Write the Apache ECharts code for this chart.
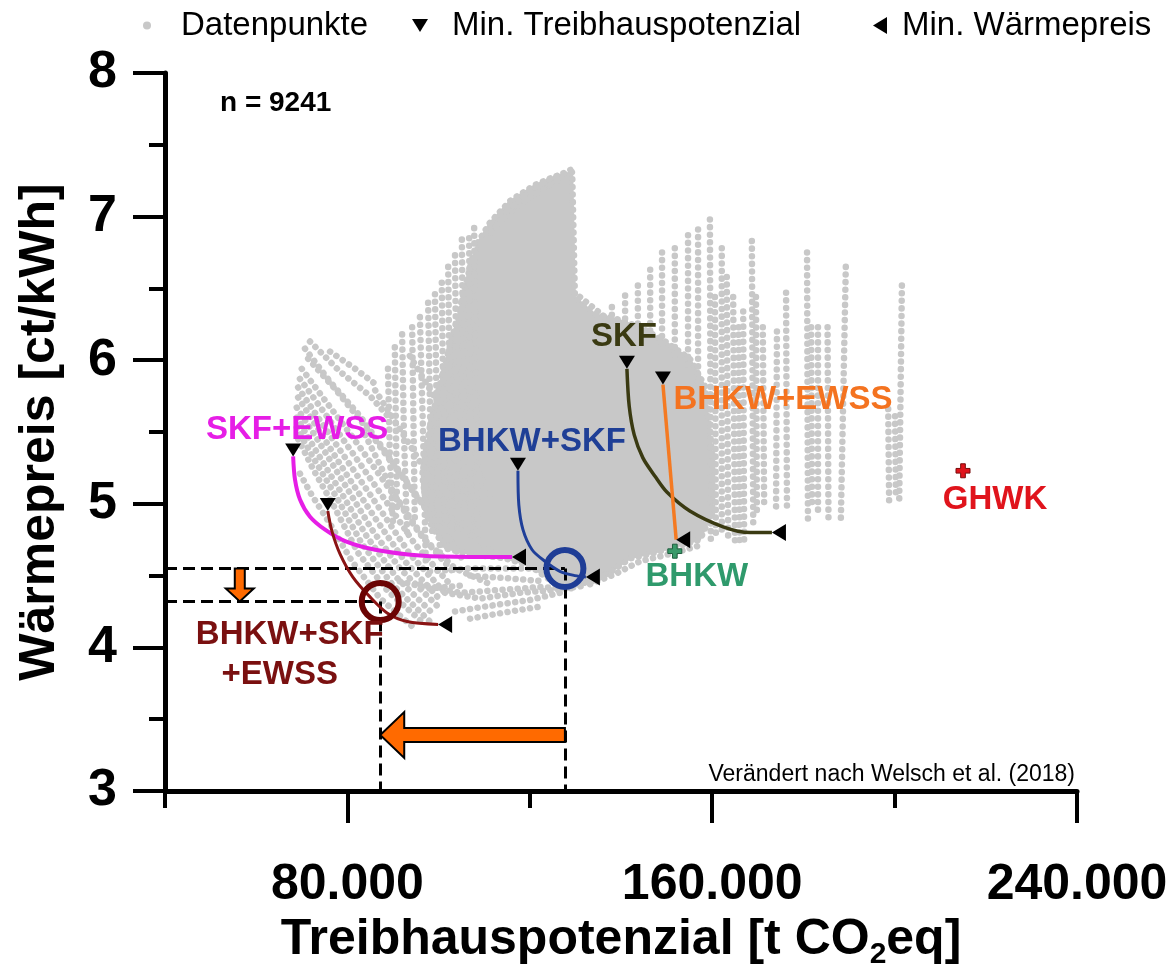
<!DOCTYPE html>
<html>
<head>
<meta charset="utf-8">
<script src="https://cdn.jsdelivr.net/npm/echarts@6/dist/echarts.min.js"></script>
<style>
  html, body { margin: 0; padding: 0; background: #fff; }
  #chart { width: 1173px; height: 975px; }
</style>
</head>
<body>
<div id="chart"></div>
<script>
// Treibhauspotenzial in 1000 t CO2eq (x), Wärmepreis in ct/kWh (y)
const xRange = [40, 240];
const yRange = [3, 8];
const xMajorTicks = [80, 160, 240];
const xMinorTicks = [40, 120, 200];

// Pareto-Fronten der Systemvarianten (Start = min. Treibhauspotenzial, Ende = min. Wärmepreis)
const skfEwss = [[68.1,5.33],[68.5,5.17],[69.6,5.03],[71.8,4.91],[75.1,4.82],[79.5,4.74],[86.1,4.68],[95.9,4.64],[106.9,4.63],[116.1,4.63]];
const bhkwSkfEwss = [[75.7,4.95],[76.6,4.81],[78.4,4.65],[81.2,4.49],[85.0,4.35],[88.7,4.24],[93.1,4.18],[99.9,4.16]];
const bhkwSkf = [[117.4,5.23],[117.6,4.99],[118.5,4.82],[120.5,4.68],[123.3,4.60],[126.6,4.53],[129.9,4.50],[132.3,4.49]];
const skf = [[141.3,5.94],[141.8,5.68],[142.9,5.48],[144.8,5.32],[147.5,5.19],[150.1,5.08],[155.1,4.95],[162.4,4.84],[168.3,4.80],[173.1,4.80]];
const bhkwEwss = [[149.2,5.83],[152.1,4.75]];

// Einzelsysteme
const bhkwPoint = [151.8, 4.67];
const ghwkPoint = [215.0, 5.23];

// hervorgehobene Optima: BHKW+SKF und BHKW+SKF+EWSS
const optima = [[127.7, 4.55], [87.2, 4.32]];
const gwpArrowY = 3.39;
const priceArrowX = 56.4;

// Datenwolke: dicht besetzter Kernbereich
const cloudCore = [[108.6,6.82],[111.3,6.96],[115.7,7.11],[121.1,7.22],[125.5,7.28],[129.3,7.31],[129.9,6.44],[134.3,6.32],[138.7,6.29],[144.2,6.23],[149.7,6.13],[155.1,6.01],[158.4,5.82],[160.0,5.34],[160.0,4.93],[157.3,4.75],[152.9,4.71],[147.5,4.66],[142.0,4.62],[138.0,4.53],[133.6,4.46],[128.8,4.43],[124.4,4.47],[120.0,4.57],[114.6,4.62],[106.9,4.65],[101.4,4.69],[97.7,4.89],[96.4,5.20],[98.1,5.54],[100.7,5.89],[103.6,6.23],[105.8,6.51],[107.3,6.70]];

// Datenwolke: Punktreihen außerhalb des Kernbereichs
const cloudStrands = [
  // senkrechte Reihen rechts
  [[159.5,6.98],[159.7,4.75]],
  [[160.6,6.44],[160.8,4.79]],
  [[162.1,6.78],[162.1,4.79]],
  [[163.2,6.58],[163.5,4.75]],
  [[164.6,6.44],[165.0,4.72]],
  [[165.8,6.23],[166.0,4.73]],
  [[166.8,6.34],[167.0,4.75]],
  [[168.7,6.83],[169.0,4.86]],
  [[169.6,6.44],[169.8,4.93]],
  [[171.1,6.23],[171.4,4.96]],
  [[174.2,6.20],[174.0,4.96]],
  [[176.2,6.47],[176.4,4.94]],
  [[180.8,6.75],[181.0,4.87]],
  [[181.7,6.23],[181.9,4.96]],
  [[183.2,6.23],[183.2,4.93]],
  [[185.3,6.23],[185.5,4.89]],
  [[189.3,6.65],[188.2,4.87]],
  [[198.6,5.66],[198.8,5.01]],
  [[200.1,5.61],[200.3,5.03]],
  [[201.6,6.52],[201.0,4.99]],
  // kurze Reihen oberhalb des Kerns
  [[138.0,6.37],[138.0,6.23]],
  [[140.9,6.45],[140.9,6.23]],
  [[143.7,6.52],[143.7,6.20]],
  [[146.4,6.63],[146.4,6.13]],
  [[149.0,6.75],[149.0,6.08]],
  [[151.8,6.78],[151.8,6.03]],
  [[154.7,6.87],[154.7,5.96]],
  [[156.9,6.91],[156.9,5.85]],
  [[131.0,6.44],[136.5,6.30]],
  [[110.6,6.85],[113.5,6.97],[117.9,7.09],[123.3,7.20],[128.8,7.30]],
  [[115.0,7.04],[120.0,7.18],[124.4,7.26],[129.3,7.33]],
  // senkrechte Reihen links
  [[105.1,6.84],[105.4,5.89],[105.8,4.93]],
  [[106.7,6.85],[107.1,4.75]],
  [[103.6,6.73],[104.3,4.79]],
  [[102.1,6.65],[102.5,5.61],[102.9,4.79]],
  [[100.7,6.54],[101.4,4.72]],
  [[99.2,6.46],[99.6,5.61],[100.3,4.65]],
  [[97.7,6.40],[98.6,4.79]],
  [[95.9,6.30],[96.6,5.48],[97.2,4.58]],
  [[94.2,6.23],[94.8,4.86]],
  [[92.0,6.18],[92.4,5.48],[93.1,4.79]],
  [[90.4,6.09],[90.9,4.93]],
  [[88.9,5.94],[89.3,5.34],[90.0,4.86]],
  [[107.8,6.92],[108.2,5.75],[108.6,4.79]],
  // schräge Reihen links
  [[70.7,6.08],[76.2,5.85],[82.8,5.61],[90.4,5.27],[98.1,4.93],[104.7,4.65]],
  [[71.4,6.01],[77.3,5.80],[83.9,5.54],[91.5,5.21],[99.2,4.88],[105.1,4.62]],
  [[70.0,5.94],[75.1,5.72],[81.7,5.44],[89.3,5.10],[95.9,4.79],[103.6,4.51]],
  [[69.6,5.87],[74.6,5.65],[81.0,5.36],[88.2,5.03],[94.8,4.72],[102.5,4.44]],
  [[69.2,5.81],[74.0,5.58],[80.6,5.27],[87.2,4.96],[93.7,4.65],[101.4,4.38]],
  [[69.2,5.74],[73.8,5.51],[79.9,5.20],[86.3,4.89],[92.6,4.60],[100.7,4.32]],
  [[68.9,5.67],[73.6,5.44],[79.5,5.13],[85.4,4.82],[91.5,4.55],[100.3,4.27]],
  [[68.9,5.60],[73.1,5.37],[78.6,5.08],[84.3,4.77],[90.7,4.49],[99.2,4.22]],
  [[68.9,5.53],[72.9,5.30],[77.9,5.03],[83.2,4.72],[89.8,4.44],[98.1,4.18]],
  [[69.2,5.45],[72.5,5.24],[77.1,4.98],[82.3,4.66],[88.9,4.39],[97.0,4.16]],
  [[69.6,5.21],[72.2,5.06],[76.2,4.86],[81.0,4.60],[87.2,4.34],[94.8,4.13]],
  [[71.8,6.13],[78.4,5.92],[85.0,5.75],[88.9,5.61]],
  [[76.2,6.06],[81.7,5.94],[86.7,5.82]],
  [[83.9,5.48],[90.4,5.06],[97.0,4.75],[103.6,4.55],[111.3,4.44]],
  [[86.1,5.79],[93.7,5.41],[100.3,5.06],[106.9,4.79],[113.5,4.62]],
  [[93.7,6.03],[100.3,5.68],[106.9,5.34],[111.3,5.06]],
  // Reihen unterhalb des Kerns
  [[101.4,4.38],[109.1,4.34],[117.9,4.38],[125.5,4.40],[132.1,4.43]],
  [[103.6,4.25],[111.3,4.29],[120.0,4.33],[126.6,4.38]],
  [[106.9,4.50],[115.7,4.48],[123.3,4.46]],
  [[98.1,4.53],[106.9,4.55],[115.7,4.55],[122.2,4.55]],
  [[95.9,4.44],[104.7,4.38],[113.5,4.40],[122.2,4.42],[129.9,4.41]],
  [[106.9,4.20],[115.7,4.25],[123.3,4.29]],
  [[91.5,4.46],[98.1,4.41],[104.7,4.43]],
  [[133.2,4.44],[138.7,4.51],[144.2,4.60],[150.7,4.65],[157.3,4.71]]
];

const FONT = '"Liberation Sans", Arial, Helvetica, sans-serif';
const CLOUD = '#c8c8c8';
const TRI_DOWN = 'path://M0,0L16,0L8,13Z';
const TRI_LEFT = 'path://M14,0L14,17L0,8.5Z';
const CROSS = 'path://M4,0H8V4H12V8H8V12H4V8H0V4H4Z';

const fronts = [
  { name: 'SKF+EWSS', data: skfEwss, color: '#e61ee6', width: 4,
    label: { formatter: 'SKF+EWSS', color: '#e61ee6', offset: [4, -20] } },
  { name: 'BHKW+SKF+EWSS', data: bhkwSkfEwss, color: '#8a1414', width: 3,
    label: { formatter: '{a|BHKW+SKF}\n{b|+EWSS}', color: '#7a1010', offset: [-38, 150], lineHeight: 40,
             rich: { a: {}, b: { padding: [0, 20, 0, 0] } } } },
  { name: 'BHKW+SKF', data: bhkwSkf, color: '#1f3f99', width: 3,
    label: { formatter: 'BHKW+SKF', color: '#1f3f96', offset: [14, -22] } },
  { name: 'SKF', data: skf, color: '#3a3a12', width: 3.5,
    label: { formatter: 'SKF', color: '#3a3a12', offset: [-3, -25] } },
  { name: 'BHKW+EWSS', data: bhkwEwss, color: '#f47a22', width: 3.5,
    label: { formatter: 'BHKW+EWSS', color: '#f47320', offset: [120, 22] } }
];

const labelBase = { show: true, position: 'inside', fontFamily: FONT, fontSize: 33, fontWeight: 'bold', opacity: 1 };

const chart = echarts.init(document.getElementById('chart'), null, { renderer: 'canvas' });

const series = [];

// Datenwolke
series.push({
  type: 'custom', name: 'Datenpunkte', z: 1, silent: true,
  data: [0],
  renderItem: (params, api) => ({
    type: 'group',
    children: [
      { type: 'polygon', shape: { points: cloudCore.map(p => api.coord(p)) },
        style: { fill: CLOUD, stroke: CLOUD, lineWidth: 2, lineJoin: 'round' } },
      { type: 'polygon', shape: { points: cloudCore.map(p => api.coord(p)) },
        style: { fill: null, stroke: CLOUD, lineWidth: 6.5, lineDash: [0.1, 7.5], lineCap: 'round' } }
    ]
  })
});
series.push({
  type: 'lines', name: 'Datenpunkte', coordinateSystem: 'cartesian2d', polyline: true, z: 1, silent: true,
  data: cloudStrands.map(c => ({ coords: c })),
  lineStyle: { color: CLOUD, width: 6.5, type: [0.1, 7.5], cap: 'round', opacity: 1 }
});

// Hilfslinien zu den Optima
const guides = [];
optima.forEach(o => {
  guides.push({ coords: [[xRange[0], o[1]], o] });
  guides.push({ coords: [o, [o[0], yRange[0]]] });
});
series.push({
  type: 'lines', coordinateSystem: 'cartesian2d', z: 2, silent: true,
  data: guides,
  lineStyle: { color: '#000', width: 3, type: [12, 6], opacity: 1 }
});

// Pareto-Fronten
fronts.forEach(f => {
  series.push({
    type: 'line', name: f.name, data: f.data, smooth: 0.3, symbol: 'none', z: 3, silent: true,
    lineStyle: { color: f.color, width: f.width, opacity: 1 }
  });
});

// Pfeile: Verschiebung der Optima
const arrowSizes = [
  { body: 7, head: 23, len: 24 },
  { body: 5, head: 14, len: 13 }
];
series.push({
  type: 'custom', z: 4, silent: true,
  data: [
    [optima[0][0], gwpArrowY, optima[1][0], gwpArrowY],
    [priceArrowX, optima[0][1], priceArrowX, optima[1][1]]
  ],
  renderItem: (params, api) => {
    const p1 = api.coord([api.value(0), api.value(1)]);
    const p2 = api.coord([api.value(2), api.value(3)]);
    const s = arrowSizes[params.dataIndex];
    const dx = p2[0] - p1[0], dy = p2[1] - p1[1];
    const L = Math.hypot(dx, dy);
    const ux = dx / L, uy = dy / L, nx = -uy, ny = ux;
    const hb = L - s.len;
    const pt = (a, w) => [p1[0] + ux * a + nx * w, p1[1] + uy * a + ny * w];
    return {
      type: 'polygon',
      shape: { points: [pt(0, -s.body), pt(hb, -s.body), pt(hb, -s.head), pt(L, 0), pt(hb, s.head), pt(hb, s.body), pt(0, s.body)] },
      style: { fill: '#ff6a00', stroke: '#000', lineWidth: 2 }
    };
  }
});

// Optima-Kreise
series.push({
  type: 'scatter', z: 5, silent: true, symbol: 'circle', symbolSize: 37,
  data: [
    { value: optima[0], itemStyle: { borderColor: '#1f3d96' } },
    { value: optima[1], itemStyle: { borderColor: '#6b0404' } }
  ],
  itemStyle: { color: 'rgba(0,0,0,0)', borderWidth: 6, opacity: 1 }
});

// Minimum Treibhauspotenzial (Anfang jeder Front) mit Beschriftung
series.push({
  type: 'scatter', name: 'Min. Treibhauspotenzial', z: 6, silent: true,
  symbol: TRI_DOWN, symbolSize: [16, 13], symbolOffset: [0, -6.5],
  itemStyle: { color: '#000', opacity: 1 },
  data: fronts.map(f => ({ value: f.data[0], label: Object.assign({}, labelBase, f.label) }))
});

// Minimum Wärmepreis (Ende jeder Front)
series.push({
  type: 'scatter', name: 'Min. Wärmepreis', z: 6, silent: true,
  symbol: TRI_LEFT, symbolSize: [14, 17], symbolOffset: [7, 0],
  itemStyle: { color: '#000', opacity: 1 },
  data: fronts.map(f => f.data[f.data.length - 1])
});

// Einzelsysteme BHKW und GHWK
series.push({
  type: 'scatter', z: 6, silent: true, symbol: CROSS, symbolSize: 14,
  itemStyle: { opacity: 1 },
  data: [
    { value: bhkwPoint, itemStyle: { color: '#3a9a6a', borderColor: '#1d5e3e', borderWidth: 1 },
      label: Object.assign({}, labelBase, { formatter: 'BHKW', color: '#2f9a6c', offset: [22, 26] }) },
    { value: ghwkPoint, itemStyle: { color: '#e0141c', borderColor: '#7a0a0a', borderWidth: 1 },
      label: Object.assign({}, labelBase, { formatter: 'GHWK', color: '#e0141c', offset: [32, 29] }) }
  ]
});

const legendText = { fontFamily: FONT, fontSize: 33, color: '#000' };

chart.setOption({
  animation: false,
  backgroundColor: '#fff',
  textStyle: { fontFamily: FONT },
  grid: { left: 165, width: 912, top: 73, height: 727, containLabel: false },
  legend: [
    { data: [{ name: 'Datenpunkte', icon: 'circle', itemStyle: { color: CLOUD } }],
      left: 138, top: 4, itemWidth: 8, itemHeight: 8, selectedMode: false,
      textStyle: Object.assign({ padding: [0, 0, 0, 25] }, legendText) },
    { data: [{ name: 'Min. Treibhauspotenzial', icon: TRI_DOWN, itemStyle: { color: '#000' } }],
      left: 407, top: 4, itemWidth: 16, itemHeight: 13, selectedMode: false,
      textStyle: Object.assign({ padding: [0, 0, 0, 19] }, legendText) },
    { data: [{ name: 'Min. Wärmepreis', icon: TRI_LEFT, itemStyle: { color: '#000' } }],
      left: 868, top: 4, itemWidth: 14, itemHeight: 17, selectedMode: false,
      textStyle: Object.assign({ padding: [0, 0, 0, 10] }, legendText) }
  ],
  xAxis: [
    {
      type: 'value', min: xRange[0], max: xRange[1], interval: 40,
      name: '{a|Treibhauspotenzial [t CO}{s|2}{a|eq]}',
      nameLocation: 'middle', nameGap: 119,
      nameTextStyle: {
        rich: {
          a: { fontFamily: FONT, fontSize: 50, fontWeight: 'bold', color: '#000' },
          s: { fontFamily: FONT, fontSize: 30, fontWeight: 'bold', color: '#000', verticalAlign: 'bottom', padding: [30, 0, 0, 0] }
        }
      },
      axisLine: { onZero: false, lineStyle: { color: '#000', width: 5 } },
      axisTick: { customValues: xMinorTicks, length: 17, lineStyle: { color: '#000', width: 4 } },
      axisLabel: {
        customValues: xMajorTicks, margin: 69,
        formatter: v => v + '.000',
        fontFamily: FONT, fontSize: 50, fontWeight: 'bold', color: '#000'
      },
      splitLine: { show: false }
    },
    {
      type: 'value', min: xRange[0], max: xRange[1], position: 'bottom',
      axisLine: { show: false },
      axisTick: { customValues: xMajorTicks, length: 32, lineStyle: { color: '#000', width: 4 } },
      axisLabel: { show: false },
      splitLine: { show: false }
    }
  ],
  yAxis: {
    type: 'value', min: yRange[0], max: yRange[1], interval: 1,
    name: 'Wärmepreis [ct/kWh]', nameLocation: 'middle', nameGap: 100, nameRotate: 90,
    nameTextStyle: { fontFamily: FONT, fontSize: 50, fontWeight: 'bold', color: '#000' },
    axisLine: { onZero: false, lineStyle: { color: '#000', width: 5 } },
    axisTick: { length: 32, lineStyle: { color: '#000', width: 4 } },
    minorTick: { show: true, splitNumber: 2, length: 16, lineStyle: { color: '#000', width: 4 } },
    axisLabel: { margin: 48, fontFamily: FONT, fontSize: 52, fontWeight: 'bold', color: '#000' },
    splitLine: { show: false }
  },
  graphic: [
    { type: 'text', left: 220, top: 89, z: 10,
      style: { text: 'n = 9241', font: 'bold 28px ' + FONT, fill: '#000' } },
    { type: 'text', right: 98, top: 763, z: 10,
      style: { text: 'Verändert nach Welsch et al. (2018)', font: '23px ' + FONT, fill: '#000' } }
  ],
  series: series
});
</script>
</body>
</html>
